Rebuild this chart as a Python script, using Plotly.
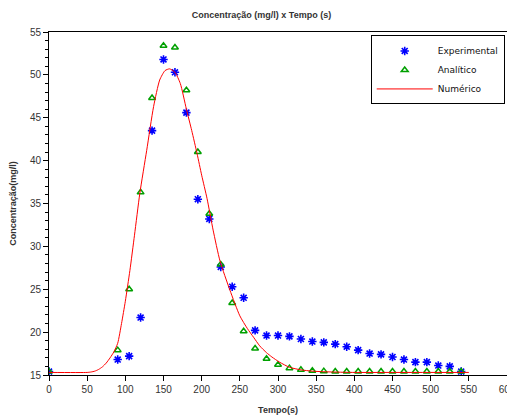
import plotly.graph_objects as go

# Experimental data (blue asterisks)
t_exp = [0, 90, 105, 120, 135, 150, 165, 180, 195, 210, 225, 240, 255, 270, 285,
         300, 315, 330, 345, 360, 375, 390, 405, 420, 435, 450, 465, 480, 495,
         510, 525, 540]
c_exp = [15.4, 16.8, 17.2, 21.7, 43.5, 51.8, 50.3, 45.6, 35.5, 33.2, 27.6, 25.3,
         24.0, 20.2, 19.6, 19.6, 19.5, 19.2, 18.9, 18.8, 18.6, 18.3, 17.9, 17.5,
         17.4, 17.1, 16.8, 16.5, 16.5, 16.1, 16.0, 15.4]

# Analytical solution (green triangles)
t_ana = [0, 90, 105, 120, 135, 150, 165, 180, 195, 210, 225, 240, 255, 270, 285,
         300, 315, 330, 345, 360, 375, 390, 405, 420, 435, 450, 465, 480, 495,
         510, 525, 540]
c_ana = [15.4, 17.9, 25.0, 36.3, 47.3, 53.4, 53.2, 48.2, 41.0, 33.8, 27.9, 23.4,
         20.1, 18.1, 16.9, 16.2, 15.8, 15.6, 15.5, 15.45, 15.4, 15.4, 15.4, 15.4,
         15.4, 15.4, 15.4, 15.4, 15.4, 15.4, 15.4, 15.4]

# Numerical solution (red line)
t_num = [0, 50, 55, 60, 65, 70, 75, 80, 85, 90, 95, 100, 106, 112, 119, 128,
         137, 145, 152, 158, 165, 172, 180, 187, 194, 200, 207, 215, 224, 237,
         250, 260, 268, 276, 285, 292, 302, 315, 330, 345, 360, 380, 400, 450,
         500, 550]
c_num = [15.3, 15.3, 15.35, 15.45, 15.65, 15.95, 16.4, 17.0, 17.7, 18.7, 21.0,
         23.6, 27.2, 31.3, 36.2, 41.2, 46.3, 49.4, 50.5, 50.7, 50.3, 49.0, 46.0,
         43.5, 40.8, 38.3, 35.6, 31.9, 28.3, 24.9, 21.9, 20.4, 19.4, 18.4, 17.6,
         17.1, 16.5, 15.9, 15.6, 15.45, 15.38, 15.33, 15.3, 15.3, 15.3, 15.3]

fig = go.Figure()
fig.add_trace(go.Scatter(
    x=t_exp, y=c_exp, mode="markers", name="Experimental",
    marker=dict(symbol="asterisk-open", size=7, color="#0000ff",
                line=dict(color="#0000ff", width=1.6)),
))
fig.add_trace(go.Scatter(
    x=t_ana, y=c_ana, mode="markers", name="Analítico",
    marker=dict(symbol="triangle-up-open", size=6, color="#00a000",
                line=dict(color="#00a000", width=1.5)),
))
fig.add_trace(go.Scatter(
    x=t_num, y=c_num, mode="lines", name="Numérico",
    line=dict(color="#ff0000", width=1, shape="spline", smoothing=0.6),
))

# The page body has an 8px margin, so the figure is sized to fit the window.
font_family = "Liberation Sans, Arial, sans-serif"
fig.update_layout(
    width=507, height=411,
    margin=dict(l=41, r=8, t=24, b=44),
    paper_bgcolor="white", plot_bgcolor="white",
    font=dict(family=font_family, size=10, color="#333333"),
    title=dict(text="<b>Concentração (mg/l) x Tempo (s)</b>",
               x=0.5, xanchor="center", y=0.983, yanchor="middle",
               font=dict(size=9, color="#333333")),
    showlegend=True,
    legend=dict(x=0.995, xanchor="right", y=0.99, yanchor="top",
                bordercolor="black", borderwidth=1, bgcolor="white",
                font=dict(family="DejaVu Sans, sans-serif", size=9, color="#111111"),
                itemwidth=56, tracegroupgap=0),
)
fig.update_xaxes(
    range=[0, 600], tickmode="linear", tick0=0, dtick=50,
    showgrid=False, zeroline=False, automargin=False, ticklabeloverflow="allow",
    showline=True, linecolor="black", linewidth=1, mirror=True,
    ticks="outside", ticklen=5, tickcolor="black",
    tickfont=dict(size=10, color="#333333"),
    title=dict(text="<b>Tempo(s)</b>", font=dict(size=9, color="#333333"), standoff=12),
)
fig.update_yaxes(
    range=[15, 55], tickmode="linear", tick0=15, dtick=5,
    showgrid=False, zeroline=False, automargin=False,
    showline=True, linecolor="black", linewidth=1, mirror=True,
    ticks="outside", ticklen=5, tickcolor="black",
    minor=dict(dtick=1, ticks="outside", ticklen=3, tickcolor="black", showgrid=False),
    tickfont=dict(size=10, color="#333333"),
    title=dict(text="<b>Concentração(mg/l)</b>", font=dict(size=9, color="#333333"), standoff=14),
)

fig.write_html("out.html")
